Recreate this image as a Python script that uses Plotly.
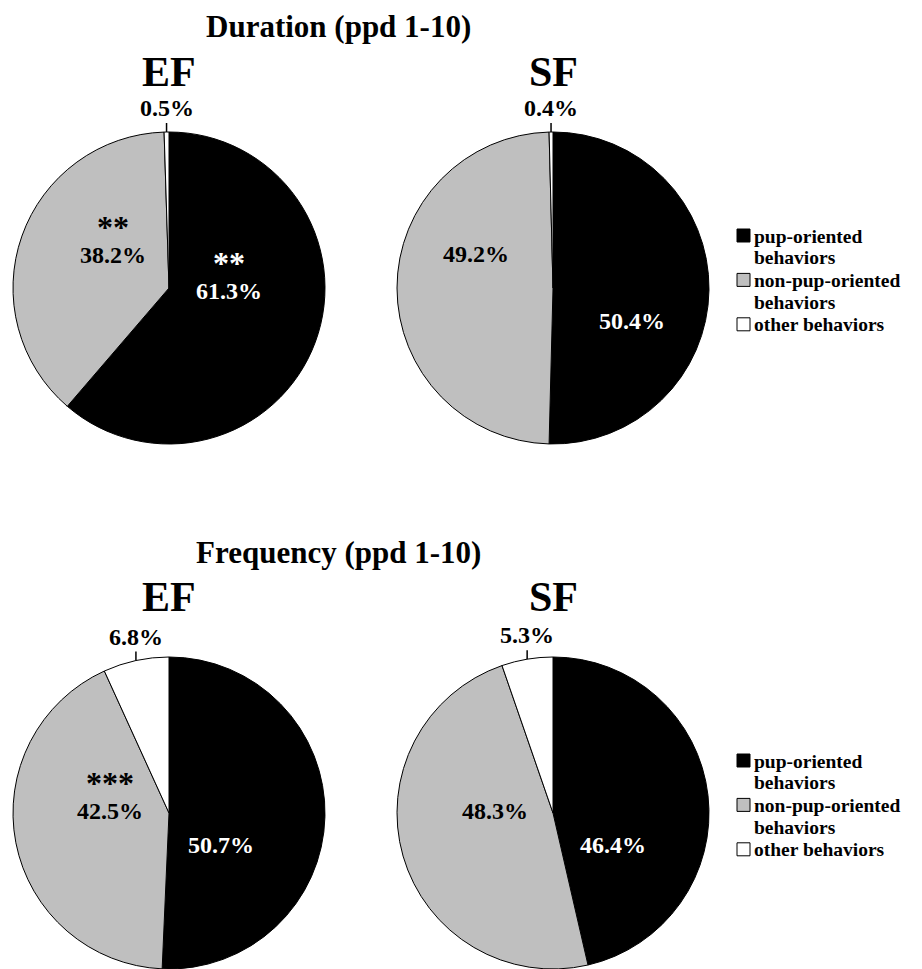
import math
import plotly.graph_objects as go

W, H = 922, 969
FONT = "Times New Roman, Liberation Serif, serif"

# Behaviour categories, slice colours and legend wording
categories = ["pup-oriented behaviors", "non-pup-oriented behaviors", "other behaviors"]
legend_lines = [["pup-oriented", "behaviors"], ["non-pup-oriented", "behaviors"], ["other behaviors"]]
slice_colors = ["#000000", "#bfbfbf", "#ffffff"]

# Percent of time / events per group, ppd 1-10
duration_ef = [61.3, 38.2, 0.5]
duration_sf = [50.4, 49.2, 0.4]
frequency_ef = [50.7, 42.5, 6.8]
frequency_sf = [46.4, 48.3, 5.3]

# Significance markers per slice (EF vs SF)
duration_ef_sig = ["**", "**", ""]
duration_sf_sig = ["", "", ""]
frequency_ef_sig = ["", "***", ""]
frequency_sf_sig = ["", "", ""]

panel_titles = ["Duration (ppd 1-10)", "Frequency (ppd 1-10)"]
group_names = ["EF", "SF"]


def px(x):
    return x / W


def py(y):
    return 1 - y / H


def label(x, y, text, size, color="#000000", xanchor="center"):
    return dict(x=px(x), y=py(y), xref="paper", yref="paper", showarrow=False,
                xanchor=xanchor, yanchor="middle", text=f"<b>{text}</b>",
                font=dict(family=FONT, size=size, color=color))


R = 156
panels = [
    # values, significance, centre (pixels), label positions for the two large slices
    dict(values=duration_ef, sig=duration_ef_sig, c=(169, 288), lab=[(229, 291), (113, 255)]),
    dict(values=duration_sf, sig=duration_sf_sig, c=(553, 288), lab=[(632, 321), (476, 254)]),
    dict(values=frequency_ef, sig=frequency_ef_sig, c=(169, 813), lab=[(221, 845), (110, 811)]),
    dict(values=frequency_sf, sig=frequency_sf_sig, c=(553, 813), lab=[(613, 845), (495, 811)]),
]

fig = go.Figure()
annotations = []
shapes = []

for p in panels:
    cx, cy = p["c"]
    fig.add_trace(go.Pie(
        labels=categories,
        values=p["values"],
        sort=False,
        direction="clockwise",
        rotation=0,
        marker=dict(colors=slice_colors, line=dict(color="#000000", width=1)),
        textinfo="none",
        hoverinfo="label+percent",
        showlegend=False,
        domain=dict(x=[px(cx - R), px(cx + R)], y=[py(cy + R), py(cy - R)]),
    ))

    # value labels inside the two large slices
    for i in range(2):
        lx, ly = p["lab"][i]
        color = "#ffffff" if i == 0 else "#000000"
        annotations.append(label(lx, ly, f"{p['values'][i]:.1f}%", 24, color))
        if p["sig"][i]:
            annotations.append(label(lx, ly - 28, p["sig"][i], 32, color))

    # small slice: label above the pie with a tick to the arc
    vals = p["values"]
    total = sum(vals)
    mid = (vals[0] + vals[1] + vals[2] / 2) / total * 2 * math.pi
    ex = cx + R * math.sin(mid)
    ey = cy - R * math.cos(mid)
    shapes.append(dict(type="line", xref="paper", yref="paper",
                       x0=px(ex), y0=py(ey), x1=px(ex), y1=py(ey - 9),
                       line=dict(color="#000000", width=1.5)))
    annotations.append(label(ex, ey - 24, f"{vals[2]:.1f}%", 24))

# Panel titles, group names and legends
LEG_SIZE = 19.5
LEG_PITCH = 21.7
for k, title in enumerate(panel_titles):
    off = 525 * k
    annotations.append(label(338, 27 + off, title, 31))
    for g, gx in zip(group_names, (169, 553)):
        annotations.append(label(gx, 72 + off, g, 42))

    y0 = 236 + off
    for lines, col in zip(legend_lines, slice_colors):
        shapes.append(dict(type="rect", xref="paper", yref="paper",
                           x0=px(737), x1=px(750), y0=py(y0 - 7), y1=py(y0 + 6),
                           fillcolor=col, line=dict(color="#000000", width=1)))
        for j, line in enumerate(lines):
            annotations.append(label(752, y0 + LEG_PITCH * j, line, LEG_SIZE, xanchor="left"))
        y0 += LEG_PITCH * len(lines) + 1

fig.update_layout(
    width=W, height=H,
    margin=dict(l=0, r=0, t=0, b=0),
    paper_bgcolor="#ffffff", plot_bgcolor="#ffffff",
    annotations=annotations, shapes=shapes,
)

fig.write_html("out.html")
